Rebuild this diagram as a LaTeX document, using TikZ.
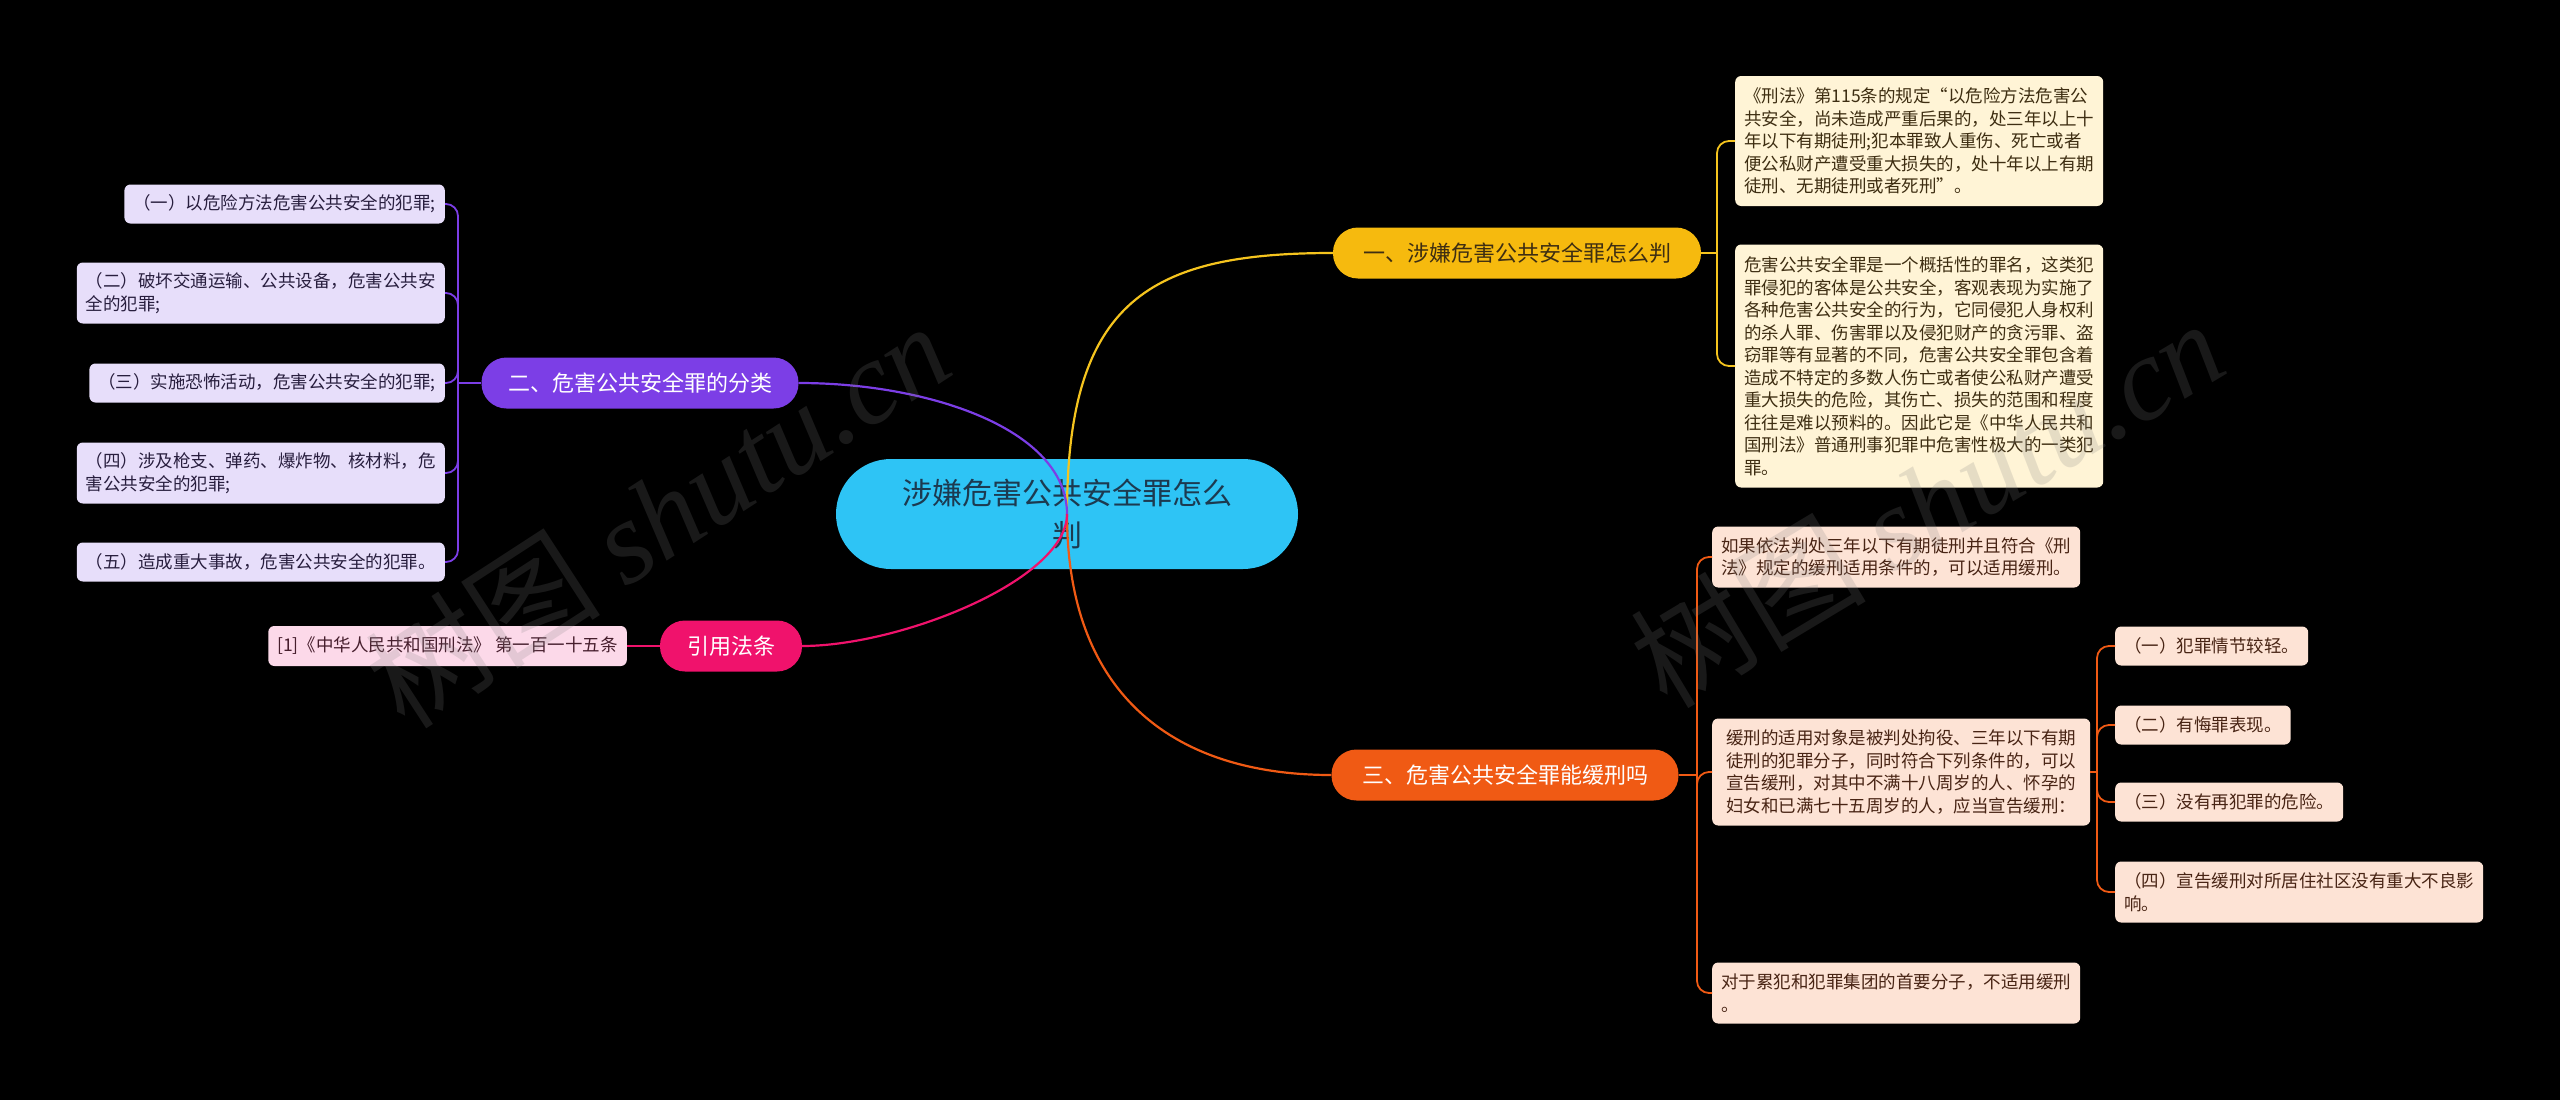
\documentclass[tikz,border=0pt]{standalone}
\usepackage{fontspec}
\setmainfont{Noto Sans CJK SC}
\newfontfamily\wmfont{Liberation Serif}
\usepackage{xcolor}
\definecolor{rootcyan}{RGB}{46,196,245}
\definecolor{roottext}{RGB}{28,58,80}
\definecolor{yellowbr}{RGB}{246,186,14}
\definecolor{yellowline}{RGB}{245,196,30}
\definecolor{yellowleaf}{RGB}{255,244,214}
\definecolor{yellowtext}{RGB}{62,46,18}
\definecolor{purplebr}{RGB}{124,62,230}
\definecolor{purpleleaf}{RGB}{231,222,250}
\definecolor{purpletext}{RGB}{40,30,62}
\definecolor{orangebr}{RGB}{240,90,20}
\definecolor{orangeleaf}{RGB}{253,227,213}
\definecolor{orangetext}{RGB}{72,36,20}
\definecolor{pinkbr}{RGB}{240,18,108}
\definecolor{pinkleaf}{RGB}{252,217,233}
\definecolor{pinktext}{RGB}{70,30,45}

\begin{document}
\begin{tikzpicture}[x=1pt, y=-1pt,
    root/.style={fill=rootcyan, text=roottext, rounded corners=55pt, minimum width=462pt,
        minimum height=110pt, align=center, inner sep=0pt, font=\fontsize{30}{42}\selectfont},
    branch/.style={rounded corners=25pt, minimum height=51pt, inner sep=0pt,
        font=\fontsize{22}{26}\selectfont},
    leaf/.style={rounded corners=6pt, inner xsep=9pt, inner ysep=0pt, minimum height=39pt,
        align=left, font=\fontsize{17.5}{22.5}\selectfont},
    link/.style={line width=2.2pt},
    twig/.style={line width=1.8pt, rounded corners=12pt},
    wm/.style={text=gray, text opacity=0.2, font=\fontsize{118}{118}\selectfont}]

    % background
    \fill[black] (0,0) rectangle (2560,1100);

    % centre
    \node[root] (root) at (1067,514) {涉嫌危害公共安全罪怎么\\判};

    % main branches
    \node[branch, fill=yellowbr, text=yellowtext, minimum width=368pt] (b1) at (1517,253) {一、涉嫌危害公共安全罪怎么判};
    \node[branch, fill=purplebr, text=white, minimum width=317pt] (b2) at (640,383) {二、危害公共安全罪的分类};
    \node[branch, fill=orangebr, text=white, minimum width=347pt] (b3) at (1505,775) {三、危害公共安全罪能缓刑吗};
    \node[branch, fill=pinkbr, text=white, minimum width=142pt] (b4) at (731,646) {引用法条};

    % branch one
    \node[leaf, fill=yellowleaf, text=yellowtext, anchor=west, minimum height=130pt] (y1) at (1735,141)
        {《刑法》第115条的规定“以危险方法危害公\\共安全，尚未造成严重后果的，处三年以上十\\年以下有期徒刑;犯本罪致人重伤、死亡或者\\便公私财产遭受重大损失的，处十年以上有期\\徒刑、无期徒刑或者死刑”。};
    \node[leaf, fill=yellowleaf, text=yellowtext, anchor=west, minimum height=243pt] (y2) at (1735,366)
        {危害公共安全罪是一个概括性的罪名，这类犯\\罪侵犯的客体是公共安全，客观表现为实施了\\各种危害公共安全的行为，它同侵犯人身权利\\的杀人罪、伤害罪以及侵犯财产的贪污罪、盗\\窃罪等有显著的不同，危害公共安全罪包含着\\造成不特定的多数人伤亡或者使公私财产遭受\\重大损失的危险，其伤亡、损失的范围和程度\\往往是难以预料的。因此它是《中华人民共和\\国刑法》普通刑事犯罪中危害性极大的一类犯\\罪。};

    % branch two
    \node[leaf, fill=purpleleaf, text=purpletext, anchor=east] (p1) at (445,204) {（一）以危险方法危害公共安全的犯罪;};
    \node[leaf, fill=purpleleaf, text=purpletext, anchor=east, minimum height=61pt] (p2) at (445,293) {（二）破坏交通运输、公共设备，危害公共安\\全的犯罪;};
    \node[leaf, fill=purpleleaf, text=purpletext, anchor=east] (p3) at (445,383) {（三）实施恐怖活动，危害公共安全的犯罪;};
    \node[leaf, fill=purpleleaf, text=purpletext, anchor=east, minimum height=61pt] (p4) at (445,473) {（四）涉及枪支、弹药、爆炸物、核材料，危\\害公共安全的犯罪;};
    \node[leaf, fill=purpleleaf, text=purpletext, anchor=east] (p5) at (445,562) {（五）造成重大事故，危害公共安全的犯罪。};

    % branch three
    \node[leaf, fill=orangeleaf, text=orangetext, anchor=west, minimum height=61pt] (o1) at (1712,557)
        {如果依法判处三年以下有期徒刑并且符合《刑\\法》规定的缓刑适用条件的，可以适用缓刑。};
    \node[leaf, fill=orangeleaf, text=orangetext, anchor=west, minimum height=107pt, inner xsep=14pt] (o2) at (1712,772)
        {缓刑的适用对象是被判处拘役、三年以下有期\\徒刑的犯罪分子，同时符合下列条件的，可以\\宣告缓刑，对其中不满十八周岁的人、怀孕的\\妇女和已满七十五周岁的人，应当宣告缓刑：};
    \node[leaf, fill=orangeleaf, text=orangetext, anchor=west, minimum height=61pt] (o3) at (1712,993)
        {对于累犯和犯罪集团的首要分子，不适用缓刑\\。};
    \node[leaf, fill=orangeleaf, text=orangetext, anchor=west] (o21) at (2115,646) {（一）犯罪情节较轻。};
    \node[leaf, fill=orangeleaf, text=orangetext, anchor=west] (o22) at (2115,725) {（二）有悔罪表现。};
    \node[leaf, fill=orangeleaf, text=orangetext, anchor=west] (o23) at (2115,802) {（三）没有再犯罪的危险。};
    \node[leaf, fill=orangeleaf, text=orangetext, anchor=west, minimum height=61pt] (o24) at (2115,892)
        {（四）宣告缓刑对所居住社区没有重大不良影\\响。};

    % branch four
    \node[leaf, fill=pinkleaf, text=pinktext, anchor=east, minimum height=40pt] (r1) at (627,646) {[1]《中华人民共和国刑法》 第一百一十五条};

    % junctions
    \coordinate (j1) at (1717,253);
    \coordinate (j2) at (458,383);
    \coordinate (j3) at (1697,775);
    \coordinate (j4) at (2097,772);

    % main links
    \draw[link, yellowline] (root.center) .. controls +(0,-214) and +(-183,0) .. (b1.west);
    \draw[link, purplebr] (root.center) .. controls +(0,-84) and +(132,0) .. (b2.east);
    \draw[link, orangebr] (root.center) .. controls +(0,186) and +(-152,0) .. (b3.west);
    \draw[link, pinkbr] (root.center) .. controls +(0,66) and +(98,0) .. (b4.east);

    % sub links
    \draw[twig, yellowline] (b1.east) -- (j1);
    \foreach \n in {y1,y2} {
        \draw[twig, yellowline] (j1) |- (\n.west);
    }
    \draw[twig, purplebr] (b2.west) -- (j2);
    \foreach \n in {p1,p2,p3,p4,p5} {
        \draw[twig, purplebr] (j2) |- (\n.east);
    }
    \draw[twig, orangebr] (b3.east) -- (j3);
    \foreach \n in {o1,o2,o3} {
        \draw[twig, orangebr] (j3) |- (\n.west);
    }
    \draw[twig, orangebr] (o2.east) -- (j4);
    \foreach \n in {o21,o22,o23,o24} {
        \draw[twig, orangebr] (j4) |- (\n.west);
    }
    \draw[twig, pinkbr] (b4.west) -- (r1.east);

    % watermark
    \node[wm, rotate=33] (wm1) at (657,514) {树图 {\wmfont\itshape shutu.cn}};
    \node[wm, rotate=31] (wm2) at (1927,502) {树图 {\wmfont\itshape shutu.cn}};
\end{tikzpicture}
\end{document}
